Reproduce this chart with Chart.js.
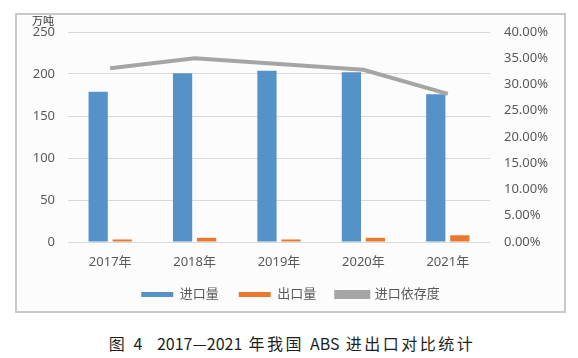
<!DOCTYPE html>
<html>
<head>
<meta charset="utf-8">
<script src="https://cdn.jsdelivr.net/npm/chart.js@4/dist/chart.umd.min.js"></script>
<style>
  body { margin: 0; background: #fff; width: 578px; height: 358px; position: relative; overflow: hidden; }
  #box { position: absolute; left: 15px; top: 13px; width: 551px; height: 300px; box-sizing: border-box;
         border: 2px solid #c9c9c9; background: #fcfcfc; }
  #box canvas { display: block; }
  #caption { position: absolute; left: 0; width: 584px; top: 331px; text-align: center; white-space: nowrap;
             font-family: "Noto Sans CJK SC", "Noto Sans", sans-serif; font-size: 16px; color: #231f20; letter-spacing: 2.5px; }
  #caption .n { letter-spacing: 0; }
</style>
</head>
<body>
<div id="box"><canvas id="chart" width="547" height="296"></canvas></div>
<div id="caption">图 4&nbsp; <span class="n">2017—2021</span> 年我国 <span class="n">ABS</span> 进出口对比统计</div>
<script>
(() => {
    // 数据
    const years = ['2017年', '2018年', '2019年', '2020年', '2021年'];
    const importQty = [179, 201, 204, 202, 176];
    const exportQty = [3, 5, 3, 5, 8];
    const importDependence = [33.1, 35.0, 33.9, 32.8, 28.2];

    const font = '"Noto Sans", "Noto Sans CJK SC", sans-serif';
    const textColor = '#595959';

    // 左上角单位
    const unitLabel = {
        id: 'unitLabel',
        afterDraw(chart) {
            const ctx = chart.ctx;
            ctx.save();
            ctx.font = '11px "Noto Sans CJK SC", sans-serif';
            ctx.fillStyle = '#333';
            ctx.textBaseline = 'middle';
            ctx.fillText('万吨', 15, 6);
            ctx.restore();
        }
    };

    // 固定坐标轴尺寸
    const fitY = w => s => {
        s.width = w;
        s.paddingTop = 0;
        s.paddingBottom = 0;
    };

    new Chart(document.getElementById('chart'), {
        type: 'bar',
        data: {
            labels: years,
            datasets: [
                {
                    label: '进口量',
                    data: importQty,
                    backgroundColor: '#5592c8',
                    yAxisID: 'y',
                    order: 1,
                    categoryPercentage: 0.57,
                    barPercentage: 0.8
                },
                {
                    label: '出口量',
                    data: exportQty,
                    backgroundColor: '#e8792f',
                    yAxisID: 'y',
                    order: 1,
                    categoryPercentage: 0.57,
                    barPercentage: 0.8
                },
                {
                    type: 'line',
                    label: '进口依存度',
                    data: importDependence,
                    borderColor: '#a5a5a5',
                    backgroundColor: '#a5a5a5',
                    borderWidth: 4,
                    pointRadius: 0,
                    tension: 0,
                    yAxisID: 'y1',
                    order: 0
                }
            ]
        },
        options: {
            responsive: false,
            animation: false,
            layout: { padding: { top: 17, left: 0, right: 0, bottom: 0 } },
            plugins: {
                tooltip: { enabled: false },
                legend: {
                    position: 'bottom',
                    labels: {
                        boxWidth: 32,
                        boxHeight: 5,
                        padding: 20,
                        color: textColor,
                        font: { family: font, size: 13 },
                        sort: (a, b) => a.datasetIndex - b.datasetIndex
                    }
                }
            },
            scales: {
                x: {
                    grid: { display: false, drawTicks: false },
                    border: { display: false },
                    ticks: { color: textColor, font: { family: font, size: 13 }, padding: 12 },
                    afterFit: s => { s.height = 26; }
                },
                y: {
                    position: 'left',
                    min: 0,
                    max: 250,
                    ticks: { stepSize: 50, color: textColor, font: { family: font, size: 13 }, padding: 13 },
                    grid: { color: '#d9d9d9', drawTicks: false },
                    border: { display: false },
                    afterFit: fitY(51)
                },
                y1: {
                    position: 'right',
                    min: 0,
                    max: 40,
                    ticks: {
                        stepSize: 5,
                        color: textColor,
                        font: { family: font, size: 13 },
                        padding: 14,
                        callback: v => v.toFixed(2) + '%'
                    },
                    grid: { display: false, drawTicks: false },
                    border: { display: false },
                    afterFit: fitY(74)
                }
            }
        },
        plugins: [unitLabel]
    });
})();
</script>
</body>
</html>
